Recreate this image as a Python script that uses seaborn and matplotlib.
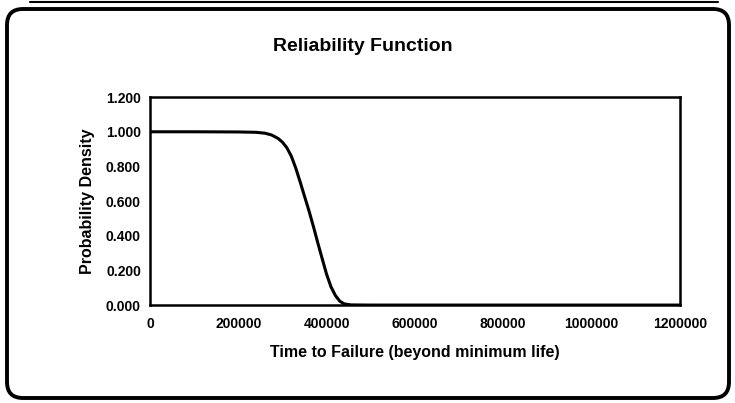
import matplotlib
matplotlib.use("Agg")
import matplotlib.pyplot as plt
from matplotlib.patches import FancyBboxPatch
from matplotlib.lines import Line2D
from matplotlib.transforms import IdentityTransform
from matplotlib.ticker import FuncFormatter, FixedLocator
import pandas as pd
import seaborn as sns

# Reliability curve R(t): time to failure beyond minimum life
time_to_failure = [0, 100000, 200000, 240000, 260000, 275000, 290000, 300000,
                   310000, 320000, 330000, 340000, 350000, 360000, 370000,
                   380000, 390000, 400000, 410000, 420000, 430000, 440000,
                   455000, 500000, 600000, 800000, 1000000, 1200000]
reliability = [1.000, 1.000, 0.999, 0.997, 0.992, 0.982, 0.962, 0.940,
               0.908, 0.860, 0.792, 0.712, 0.628, 0.545, 0.455,
               0.360, 0.268, 0.178, 0.105, 0.055, 0.022, 0.007,
               0.001, 0.000, 0.000, 0.000, 0.000, 0.000]

x_ticks = [0, 200000, 400000, 600000, 800000, 1000000, 1200000]
y_ticks = [0.0, 0.2, 0.4, 0.6, 0.8, 1.0, 1.2]

title_text = "Reliability Function"
x_label = "Time to Failure (beyond minimum life)"
y_label = "Probability Density"

sns.set_theme(style="white")
plt.rcParams["font.family"] = ["Liberation Sans", "DejaVu Sans"]
plt.rcParams["font.weight"] = "bold"

df = pd.DataFrame({"t": time_to_failure, "R": reliability})

fig = plt.figure(figsize=(7.35, 4.03), dpi=100)
fig.patch.set_facecolor("white")
ax = fig.add_axes([0.204, 0.243, 0.721, 0.516])

sns.lineplot(data=df, x="t", y="R", ax=ax, color="black", linewidth=2.2)

ax.set_xlim(0, 1200000)
ax.set_ylim(0, 1.2)
ax.xaxis.set_major_locator(FixedLocator(x_ticks))
ax.yaxis.set_major_locator(FixedLocator(y_ticks))
ax.xaxis.set_major_formatter(FuncFormatter(lambda v, p: f"{int(round(v))}"))
ax.yaxis.set_major_formatter(FuncFormatter(lambda v, p: f"{v:.3f}"))

for s in ax.spines.values():
    s.set_color("black")
    s.set_linewidth(1.8)

ax.tick_params(axis="both", direction="inout", length=7, width=1.8,
               color="black", labelsize=10, labelcolor="black")
ax.tick_params(axis="x", pad=5)
ax.tick_params(axis="y", pad=3)
for lbl in ax.get_xticklabels() + ax.get_yticklabels():
    lbl.set_fontweight("bold")

ax.set_xlabel(x_label, fontsize=11.5, fontweight="bold", color="black", labelpad=10)
ax.set_ylabel(y_label, fontsize=11.5, fontweight="bold", color="black", labelpad=8)
ax.grid(False)

fig.text(0.494, 0.885, title_text, ha="center", va="center",
         fontsize=14, fontweight="bold", color="black")

# Rounded chart frame (display pixels, origin bottom-left)
W, H = 735, 403
frame = FancyBboxPatch((7, H - 398), 722, 389,
                       boxstyle="round,pad=0,rounding_size=16",
                       transform=IdentityTransform(),
                       facecolor="none", edgecolor="black", linewidth=2.8)
fig.patches.append(frame)
fig.lines.append(Line2D([30, 718], [H - 1.5, H - 1.5], transform=IdentityTransform(),
                        color="black", linewidth=1.5))

fig.savefig("out.png", dpi=100, facecolor="white")
